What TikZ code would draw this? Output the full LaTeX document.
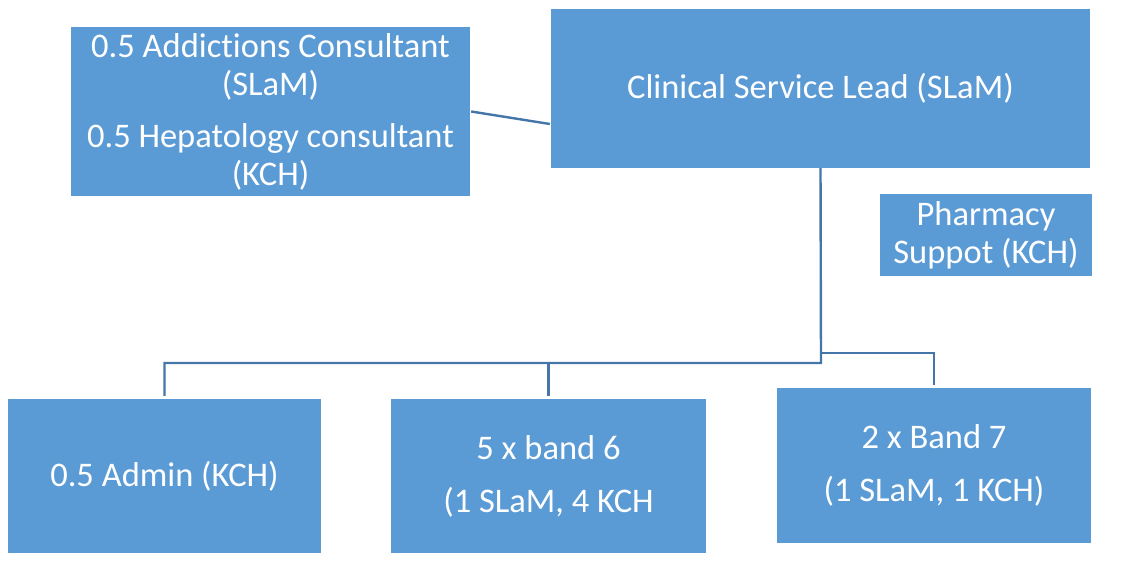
\documentclass[tikz,border=0pt]{standalone}
\usepackage{fontspec}
\setmainfont{Carlito}[Ligatures=NoCommon]
\definecolor{boxblue}{HTML}{5B9BD5}
\definecolor{lineblue}{HTML}{4576A9}
\begin{document}
\begin{tikzpicture}[x=1pt,y=-1pt,
  orgbox/.style={fill=boxblue,draw=none,inner sep=0pt,text=white,align=center,
    font=\fontsize{34.5}{38}\selectfont},
  conn/.style={draw=lineblue,line width=2.4pt}]
\useasboundingbox (0,0) rectangle (1121,580);
\node[orgbox,minimum width=399pt,minimum height=169pt] (tl) at (270.5,111.5)
  {0.5 Addictions Consultant\\(SLaM)\\[14pt]0.5 Hepatology consultant\\(KCH)};
\node[orgbox,minimum width=539pt,minimum height=159pt] (csl) at (820.5,88.5)
  {Clinical Service Lead (SLaM)};
\node[orgbox,minimum width=212pt,minimum height=82pt] (ph) at (986,235)
  {Pharmacy\\Suppot (KCH)};
\node[orgbox,minimum width=313pt,minimum height=154pt] (admin) at (164.5,476)
  {0.5 Admin (KCH)};
\node[orgbox,minimum width=315pt,minimum height=154pt] (b6) at (548.5,476)
  {5 x band 6\\[15pt](1 SLaM, 4 KCH};
\node[orgbox,minimum width=314pt,minimum height=155pt] (b7) at (934,465.5)
  {2 x Band 7\\[15pt](1 SLaM, 1 KCH)};
\coordinate (j) at (821,363);
\coordinate (k) at (821,353);
\draw[conn] ([xshift=1pt]tl.east) -- ([yshift=-35.5pt,xshift=-1pt]csl.west);
\draw[conn] (csl.south) -- (j) -| ([yshift=3pt]admin.north);
\draw[conn] (b6.north |- j) -- ([yshift=3pt]b6.north);
\draw[conn] (k) -| ([yshift=3pt]b7.north);
\end{tikzpicture}
\end{document}
